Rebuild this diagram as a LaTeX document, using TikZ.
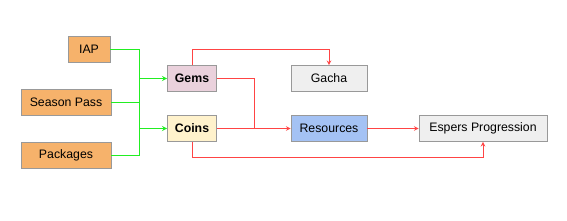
\documentclass[tikz,border=0pt]{standalone}
\usepackage{fontspec}
\setmainfont{Liberation Sans}
\usetikzlibrary{calc}
\definecolor{boxgray}{HTML}{999999}
\definecolor{orangebox}{HTML}{F6B26B}
\definecolor{gemsbox}{HTML}{EAD1DC}
\definecolor{coinsbox}{HTML}{FFF2CC}
\definecolor{resbox}{HTML}{A4C2F4}
\definecolor{greybox}{HTML}{EFEFEF}
\definecolor{linkgreen}{HTML}{22EE22}
\definecolor{linkred}{HTML}{FF4444}
\begin{document}
\begin{tikzpicture}[x=0.03cm,y=-0.03cm,>=stealth,
    box/.style={draw=boxgray,line width=0.6pt,minimum height=0.78cm,inner sep=0pt,font=\fontsize{10.5}{12}\selectfont},
    buy/.style={box,fill=orangebox},
    feed/.style={color=linkgreen,line width=1pt},
    flow/.style={color=linkred,line width=0.8pt}]
  \useasboundingbox (0,0) rectangle (567,220);
  % sources
  \node[buy,minimum width=1.26cm] (iap) at (89,49.5) {IAP};
  \node[buy,minimum width=2.7cm] (season) at (66,102.5) {Season Pass};
  \node[buy,minimum width=2.7cm] (packages) at (66,155.5) {Packages};
  % currencies
  \node[box,fill=gemsbox,minimum width=1.47cm,font=\fontsize{10.5}{12}\selectfont\bfseries] (gems) at (192,78.5) {Gems};
  \node[box,fill=coinsbox,minimum width=1.47cm,font=\fontsize{10.5}{12}\selectfont\bfseries] (coins) at (192,128.5) {Coins};
  % sinks
  \node[box,fill=greybox,minimum width=2.28cm] (gacha) at (329,78.5) {Gacha};
  \node[box,fill=resbox,minimum width=2.28cm] (res) at (329,128.5) {Resources};
  \node[box,fill=greybox,minimum width=3.84cm] (esp) at (483,128.5) {Espers Progression};
  \coordinate (bus) at (139.5,100);
  \coordinate (mrg) at (254.5,128.5);
  % green links
  \draw[feed] (season.east) -- (season.east -| bus);
  \draw[feed] (iap.east) -- (iap.east -| bus);
  \draw[feed] (packages.east) -- (packages.east -| bus);
  \draw[feed] (bus |- iap.east) -- (bus |- packages.east);
  \draw[feed,->] (bus |- gems) -- (gems.west);
  \draw[feed,->] (bus |- coins) -- (coins.west);
  % red links
  \draw[flow,->] (gems.north) -- ++(0,-16) -| (gacha.north);
  \draw[flow] (gems.east) -| (mrg);
  \draw[flow,->] (coins.east) -- (res.west);
  \draw[flow,->] (res.east) -- (esp.west);
  \draw[flow,->] (coins.south) -- ++(0,16) -| (esp.south);
\end{tikzpicture}
\end{document}
